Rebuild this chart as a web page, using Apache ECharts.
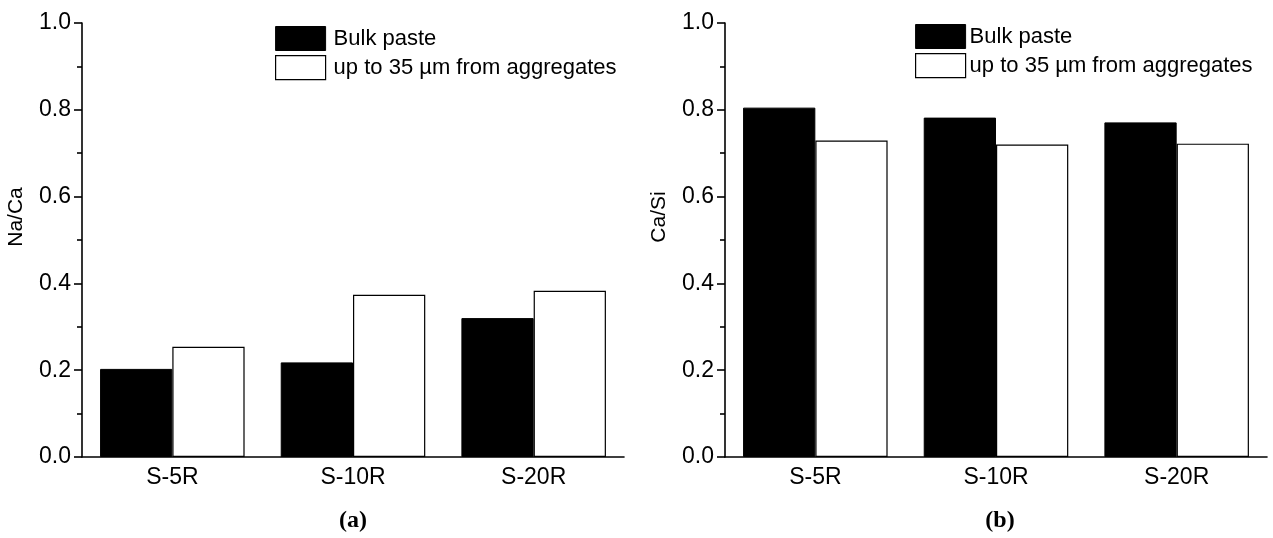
<!DOCTYPE html>
<html>
<head>
<meta charset="utf-8">
<script src="https://cdn.jsdelivr.net/npm/echarts@6/dist/echarts.min.js"></script>
<style>
html,body{margin:0;padding:0;background:#fff;}
#c{width:1273px;height:538px;}
</style>
</head>
<body>
<div id="c"></div>
<script>
const categories = ['S-5R', 'S-10R', 'S-20R'];
const seriesNames = ['Bulk paste', 'up to 35 \u00b5m from aggregates'];
const naCaBulk = [0.203, 0.218, 0.320];
const naCaNear = [0.254, 0.374, 0.383];
const caSiBulk = [0.805, 0.782, 0.771];
const caSiNear = [0.729, 0.720, 0.722];
const yNames = ['Na/Ca', 'Ca/Si'];
const captions = ['(a)', '(b)'];

const FONT = "'Liberation Sans', Arial, sans-serif";
const SERIF = "'Liberation Serif', 'Times New Roman', serif";
const chart = echarts.init(document.getElementById('c'), null, {renderer: 'canvas'});

const grids = [
  {left: 82, top: 23, width: 542, height: 434},
  {left: 725, top: 23, width: 542, height: 434}
];

function xAx(i) {
  return {
    type: 'category', gridIndex: i, data: categories,
    axisLine: {lineStyle: {color: '#000', width: 1.6}},
    axisTick: {show: false},
    axisLabel: {color: '#000', fontSize: 23, fontFamily: FONT, margin: 9},
    splitLine: {show: false}
  };
}
function yAx(i) {
  return {
    type: 'value', gridIndex: i, min: 0, max: 1, interval: 0.2,
    name: yNames[i], nameLocation: 'middle', nameGap: 55,
    nameTextStyle: {color: '#000', fontSize: 21, fontFamily: FONT, padding: [0, 0, 0, 46]},
    axisLine: {show: true, lineStyle: {color: '#000', width: 1.6}},
    axisTick: {show: true, length: 8, lineStyle: {color: '#000', width: 1.6}},
    minorTick: {show: true, splitNumber: 2, length: 5, lineStyle: {color: '#000', width: 1.6}},
    axisLabel: {color: '#000', fontSize: 23, fontFamily: FONT, margin: 11,
      formatter: v => v.toFixed(1)},
    splitLine: {show: false}
  };
}
const blackStyle = {color: '#000', borderColor: '#000', borderWidth: 1};
const whiteStyle = {color: '#fff', borderColor: '#000', borderWidth: 1.2};

function barSeries(name, data, i, style) {
  return {
    type: 'bar', name: name, data: data, xAxisIndex: i, yAxisIndex: i,
    barWidth: '40%', barGap: '0%', itemStyle: style, silent: true
  };
}
function legendAt(left, top, textPad) {
  return {
    orient: 'vertical', left: left, top: top, itemWidth: 50, itemHeight: 24, itemGap: 4,
    icon: 'rect', selectedMode: false, padding: 0,
    textStyle: {color: '#000', fontSize: 22, fontFamily: FONT, padding: [0, 0, 0, textPad]},
    data: [
      {name: seriesNames[0], itemStyle: blackStyle},
      {name: seriesNames[1], itemStyle: whiteStyle}
    ]
  };
}

chart.setOption({
  animation: false,
  backgroundColor: '#fff',
  grid: grids,
  xAxis: [xAx(0), xAx(1)],
  yAxis: [yAx(0), yAx(1)],
  legend: [legendAt(275, 26, 3), legendAt(915, 24, -1)],
  title: [
    {text: captions[0], left: 353, top: 509, textAlign: 'center', padding: 0,
      textStyle: {color: '#000', fontSize: 24, fontWeight: 'bold', fontFamily: SERIF}},
    {text: captions[1], left: 1000, top: 509, textAlign: 'center', padding: 0,
      textStyle: {color: '#000', fontSize: 24, fontWeight: 'bold', fontFamily: SERIF}}
  ],
  series: [
    barSeries(seriesNames[0], naCaBulk, 0, blackStyle),
    barSeries(seriesNames[1], naCaNear, 0, whiteStyle),
    barSeries(seriesNames[0], caSiBulk, 1, blackStyle),
    barSeries(seriesNames[1], caSiNear, 1, whiteStyle)
  ]
});
</script>
</body>
</html>
